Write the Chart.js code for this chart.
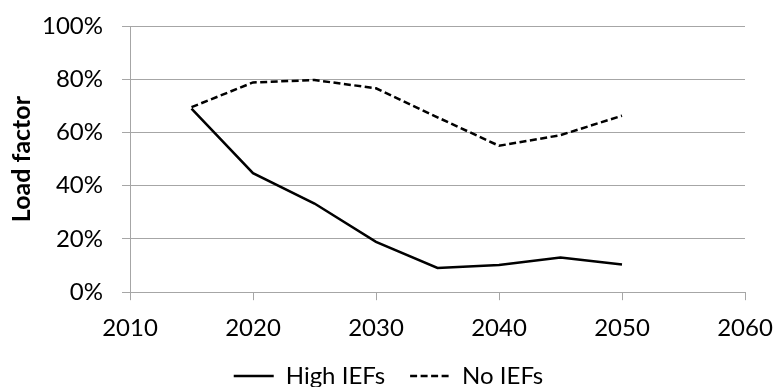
<!DOCTYPE html>
<html>
<head>
<meta charset="utf-8">
<script src="https://cdn.jsdelivr.net/npm/chart.js@4/dist/chart.umd.min.js"></script>
<style>
  html, body { margin: 0; padding: 0; background: #fff; }
  #wrap { width: 777px; height: 387px; }
</style>
</head>
<body>
<div id="wrap"><canvas id="chart-load"></canvas></div>
<script>
// values (load factor, %)
const years = [2015, 2020, 2025, 2030, 2035, 2040, 2045, 2050];
const highIEFs = [69, 44.7, 33.3, 18.9, 9.1, 10.2, 13.0, 10.4];
const noIEFs = [69.5, 78.8, 79.7, 76.6, 65.7, 55.0, 59.0, 66.3];
const seriesNames = ['High IEFs', 'No IEFs'];

const gridGrey = '#a6a6a6';
const font = 'Lato, "Open Sans", sans-serif';

const toPoints = (vals) => years.map((y, i) => ({ x: y, y: vals[i] }));

const chart = new Chart(document.getElementById('chart-load'), {
    type: 'line',
    data: {
        datasets: [{
            label: seriesNames[0],
            data: toPoints(highIEFs),
            borderColor: '#000',
            borderWidth: 2.5,
            pointRadius: 0,
            tension: 0
        }, {
            label: seriesNames[1],
            data: toPoints(noIEFs),
            borderColor: '#000',
            borderWidth: 2.5,
            borderDash: [7, 3.5],
            pointRadius: 0,
            tension: 0
        }]
    },
    options: {
        responsive: true,
        maintainAspectRatio: false,
        animation: false,
        layout: { padding: { top: 0, right: 0, left: 0, bottom: -11 } },
        plugins: {
            tooltip: { enabled: false },
            legend: {
                position: 'bottom',
                labels: {
                    usePointStyle: true,
                    pointStyle: 'line',
                    pointStyleWidth: 40,
                    padding: 25,
                    color: '#000',
                    font: { family: font, size: 24 },
                    // line samples need the dataset's dash, not the point's
                    generateLabels: (c) => {
                        const items = Chart.defaults.plugins.legend.labels.generateLabels(c);
                        items.forEach((it) => {
                            const ds = c.data.datasets[it.datasetIndex];
                            it.lineDash = ds.borderDash || [];
                            it.lineWidth = ds.borderWidth;
                            it.strokeStyle = ds.borderColor;
                        });
                        return items;
                    }
                }
            }
        },
        scales: {
            x: {
                type: 'linear',
                min: 2010,
                max: 2060,
                ticks: {
                    stepSize: 10,
                    color: '#000',
                    padding: 14,
                    maxRotation: 0,
                    font: { family: font, size: 24 },
                    callback: (v) => String(v)
                },
                grid: { drawOnChartArea: false, color: gridGrey, tickLength: 8 },
                border: { color: gridGrey },
                afterFit: (s) => { s.height -= 18; s.paddingRight = 32; }
            },
            y: {
                min: 0,
                max: 100,
                ticks: {
                    stepSize: 20,
                    color: '#000',
                    padding: 19,
                    font: { family: font, size: 24 },
                    callback: (v) => v + '%'
                },
                grid: { color: gridGrey, tickLength: 8 },
                border: { color: gridGrey },
                title: {
                    display: true,
                    text: 'Load factor',
                    color: '#000',
                    padding: { top: 7, bottom: 0 },
                    font: { family: font, size: 25, weight: 'bold' }
                },
                afterFit: (s) => { s.width = 130; s.paddingTop = 26; }
            }
        }
    }
});
</script>
</body>
</html>
